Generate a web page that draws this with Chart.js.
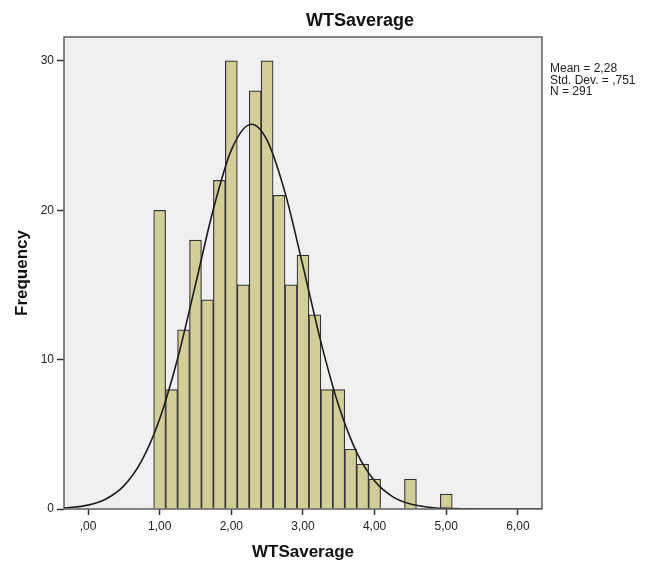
<!DOCTYPE html>
<html>
<head>
<meta charset="utf-8">
<script src="https://cdn.jsdelivr.net/npm/chart.js@4.4.1/dist/chart.umd.min.js"></script>
<style>
  html, body { margin: 0; padding: 0; background: #ffffff; }
  canvas { display: block; }
</style>
</head>
<body>
<canvas id="histChart" width="656" height="566"></canvas>
<script>
// histogram bins (centre of each bin) and counts
const binCenters = [1.0, 1.1667, 1.3333, 1.5, 1.6667, 1.8333, 2.0, 2.1667, 2.3333, 2.5, 2.6667,
  2.8333, 3.0, 3.1667, 3.3333, 3.5, 3.6667, 3.8333, 4.0, 4.5, 5.0];
const frequencies = [20, 8, 12, 18, 14, 22, 30, 15, 28, 30, 21, 15, 17, 13, 8, 8, 4, 3, 2, 2, 1];

// normal curve
const curveX = [-0.335, 0, 0.25, 0.5, 0.75, 1.0, 1.25, 1.5, 1.75, 2.0, 2.28, 2.5, 2.75, 3.0,
  3.25, 3.5, 3.75, 4.0, 4.25, 4.5, 4.75, 5.0, 5.5, 6.0, 6.336];
const curveY = [0.06, 0.26, 0.67, 1.55, 3.24, 6.03, 10.06, 15.02, 20.08, 24.03, 25.76, 24.68, 21.18, 16.27,
  11.19, 6.89, 3.79, 1.87, 0.83, 0.33, 0.12, 0.04, 0.0, 0.0, 0.0];

const xTicks = [0, 1, 2, 3, 4, 5, 6];
const yTicks = [0, 10, 20, 30];
const statsLines = ["Mean = 2,28", "Std. Dev. = ,751", "N = 291"];
const chartTitle = "WTSaverage";
const xTitle = "WTSaverage";
const yTitle = "Frequency";

const FONT = "'Liberation Sans', Arial, sans-serif";

function commaLabel(v) {
  let s = Number(v).toFixed(2).replace(".", ",");
  if (s.startsWith("0")) s = s.slice(1);
  return s;
}

const spssFrame = {
  id: "spssFrame",
  beforeDatasetsDraw(chart) {
    const { ctx, chartArea: a } = chart;
    ctx.save();
    ctx.fillStyle = "#f0f0f0";
    ctx.fillRect(a.left, a.top, a.right - a.left, a.bottom - a.top);
    ctx.restore();
  },
  afterDraw(chart) {
    const { ctx, chartArea: a } = chart;
    ctx.save();
    ctx.strokeStyle = "#5e5e5e";
    ctx.lineWidth = 1.5;
    ctx.strokeRect(a.left, a.top, a.right - a.left, a.bottom - a.top);

    ctx.fillStyle = "#111111";
    ctx.font = "bold 18px " + FONT;
    ctx.textAlign = "center";
    ctx.textBaseline = "middle";
    ctx.fillText(chartTitle, 360, 21);

    ctx.fillStyle = "#222222";
    ctx.font = "12px " + FONT;
    ctx.textAlign = "left";
    statsLines.forEach((line, i) => {
      ctx.fillText(line, a.right + 8, 69 + i * 11.5);
    });
    ctx.restore();
  },
};

new Chart(document.getElementById("histChart"), {
  data: {
    datasets: [
      {
        type: "line",
        label: "Normal",
        data: curveX.map((x, i) => ({ x, y: curveY[i] })),
        borderColor: "#1c1c1c",
        borderWidth: 1.6,
        pointRadius: 0,
        cubicInterpolationMode: "monotone",
        fill: false,
        order: 0,
      },
      {
        type: "bar",
        label: "Frequency",
        data: binCenters.map((x, i) => ({ x, y: frequencies[i] })),
        backgroundColor: "#d3ce97",
        borderColor: "#333333",
        borderWidth: 1.2,
        barPercentage: 1,
        categoryPercentage: 1,
        order: 1,
      },
    ],
  },
  plugins: [spssFrame],
  options: {
    responsive: false,
    animation: false,
    layout: { padding: { top: 37, right: 114, left: 0, bottom: 0 } },
    plugins: {
      legend: { display: false },
      tooltip: { enabled: false },
      title: { display: false },
    },
    scales: {
      x: {
        type: "linear",
        min: -0.335,
        max: 6.336,
        offset: false,
        afterFit(scale) { scale.height = 57; },
        afterBuildTicks(scale) { scale.ticks = xTicks.map((v) => ({ value: v })); },
        ticks: {
          callback: (v) => commaLabel(v),
          font: { family: FONT, size: 12 },
          color: "#222222",
          padding: 4,
          maxRotation: 0,
        },
        grid: {
          offset: false,
          drawOnChartArea: false,
          drawTicks: true,
          tickLength: 6,
          tickColor: "#333333",
          tickWidth: 1.5,
        },
        border: { display: false },
        title: {
          display: true,
          text: xTitle,
          font: { family: FONT, size: 17, weight: "bold" },
          color: "#111111",
          padding: { top: 0, bottom: 3 },
        },
      },
      y: {
        type: "linear",
        min: 0,
        max: 31.6,
        afterFit(scale) { scale.width = 64; },
        afterBuildTicks(scale) { scale.ticks = yTicks.map((v) => ({ value: v })); },
        ticks: {
          font: { family: FONT, size: 12 },
          color: "#222222",
          padding: 3,
        },
        grid: {
          drawOnChartArea: false,
          drawTicks: true,
          tickLength: 7,
          tickColor: "#333333",
          tickWidth: 1.5,
        },
        border: { display: false },
        title: {
          display: true,
          text: yTitle,
          font: { family: FONT, size: 17, weight: "bold" },
          color: "#111111",
          padding: { top: 12, bottom: 0 },
        },
      },
    },
  },
});
</script>
</body>
</html>
